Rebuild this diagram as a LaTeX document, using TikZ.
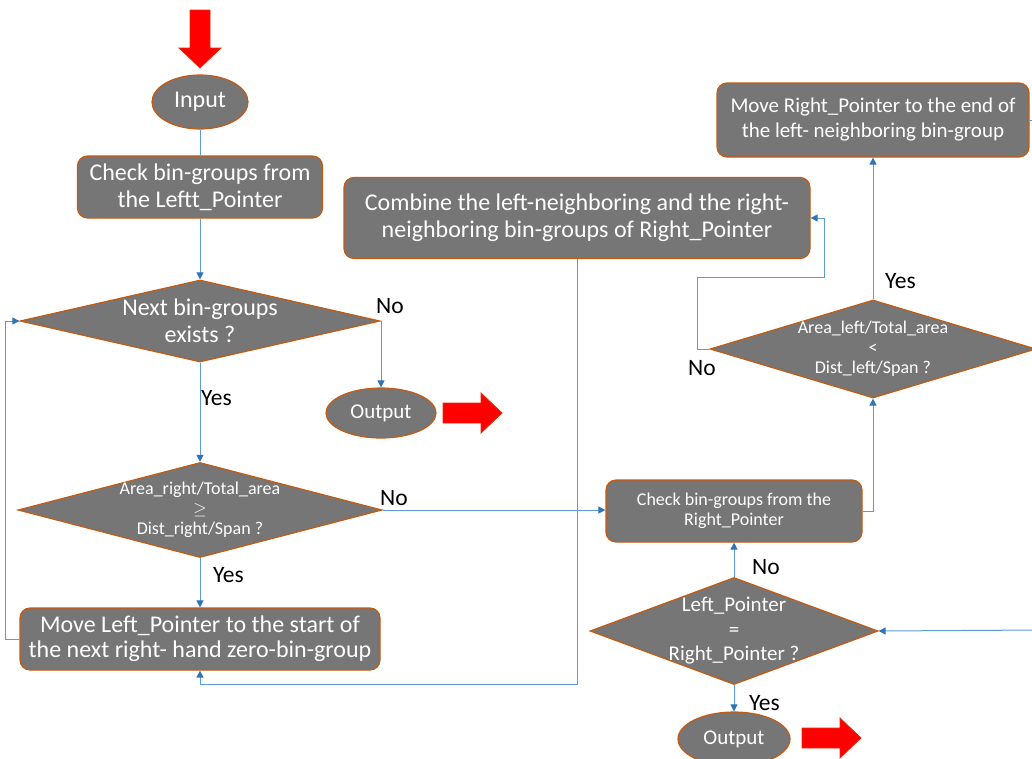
\documentclass[tikz,border=0pt]{standalone}
\usepackage{fontspec}
\setmainfont{Carlito}
\usepackage{tikz}
\usetikzlibrary{arrows.meta,positioning,shapes.geometric}
\definecolor{fl}{RGB}{118,118,118}
\definecolor{rd}{RGB}{197,90,17}
\definecolor{ln}{RGB}{91,155,213}
\definecolor{tp}{RGB}{46,117,182}
\definecolor{ar}{RGB}{255,0,0}

\begin{document}
\begin{tikzpicture}[x=1pt,y=-1pt,
  box/.style={draw=rd,fill=fl,text=white,rounded corners=10pt,line width=1.2pt,align=center,inner sep=0pt},
  dia/.style={draw=rd,fill=fl,text=white,diamond,line width=1.2pt,align=center,inner sep=0pt},
  oval/.style={draw=rd,fill=fl,text=white,ellipse,line width=1.2pt,inner sep=0pt},
  conn/.style={draw=ln,line width=1pt,-{Triangle[length=7pt,width=7pt,color=tp]}},
  big/.style={font=\fontsize{24}{27}\selectfont},
  med/.style={font=\fontsize{21}{25}\selectfont},
  mid/.style={font=\fontsize{21}{24.5}\selectfont},
  sml/.style={font=\fontsize{18}{20}\selectfont},
  lbl/.style={font=\fontsize{23.5}{26}\selectfont,anchor=west,inner sep=0pt},
  blk/.style={fill=ar,draw=rd!50!ar,line width=0.8pt}]
  \useasboundingbox (0,0) rectangle (1032,758);

  % left column
  \node[oval,big,minimum width=96pt,minimum height=54pt] (inp) at (200,102) {Input};
  \node[box,big,minimum width=245pt,minimum height=62pt] (chk1) at (200,187) {Check bin-groups from\\the Leftt\_Pointer};
  \node[dia,big,aspect=4.39,inner xsep=-4pt,inner ysep=-2pt,minimum width=360pt,minimum height=82pt] (d1) at (200,321) {Next bin-groups\\exists ?};
  \node[oval,font=\fontsize{21}{25}\selectfont,minimum width=110pt,minimum height=50pt] (out1) at (381,413) {Output};
  \node[dia,sml,aspect=3.83,inner xsep=-4pt,inner ysep=-2pt,minimum width=364pt,minimum height=95pt] (d2) at (200,510) {Area\_right/Total\_area\\$\geq$\\Dist\_right/Span ?};
  \node[box,big,font=\fontsize{24}{25}\selectfont,minimum width=360pt,minimum height=62pt] (mv1) at (200,639) {Move Left\_Pointer to the start of\\the next right- hand zero-bin-group};

  % middle and right
  \node[box,big,minimum width=466pt,minimum height=81pt] (comb) at (577,218) {Combine the left-neighboring and the right-\\neighboring bin-groups of Right\_Pointer};
  \node[box,med,minimum width=312pt,minimum height=74pt] (mv2) at (873,120) {Move Right\_Pointer to the end of\\the left- neighboring bin-group};
  \node[dia,sml,aspect=3.33,inner xsep=-4pt,inner ysep=-2pt,minimum width=326pt,minimum height=98pt] (d3) at (873,349) {Area\_left/Total\_area\\<\\Dist\_left/Span ?};
  \node[box,sml,minimum width=256pt,minimum height=62pt] (chk2) at (734,511) {Check bin-groups from the\\Right\_Pointer};
  \node[dia,mid,aspect=2.69,inner xsep=-8pt,inner ysep=-4pt,minimum width=288pt,minimum height=107pt] (d4) at (734,631) {Left\_Pointer\\=\\Right\_Pointer ?};
  \node[oval,font=\fontsize{21}{25}\selectfont,minimum width=112pt,minimum height=54pt] (out2) at (734,739) {Output};

  \coordinate (n1) at (697,277);
  \coordinate (n2) at (824,277);
  \coordinate (r1) at (1040,630);

  % connectors
  \draw[ln,line width=1pt] (inp) -- (chk1);
  \draw[conn] (chk1) -- (d1);
  \draw[conn] (d1.east) -| (out1.north);
  \draw[conn] (d1) -- (d2);
  \draw[conn] (d2) -- (mv1);
  \draw[conn] (d2.east) -- (d2.east -| chk2.west);
  \draw[conn] (mv1.west) -- ++(-14,0) |- (d1.west);
  \draw[conn] (comb.south) |- ([yshift=-14pt]mv1.south) -- (mv1.south);
  \draw[conn] (chk2.east) -| (d3.south);
  \draw[conn] (d3) -- (mv2);
  \draw[conn] (d3.west) -| (n1) -- (n2) |- (comb.east);
  \draw[ln,line width=1pt] (mv2.east) -- ++(10,0);
  \draw[conn] (r1) -- (d4.east);
  \draw[conn] (d4) -- (chk2);
  \draw[conn] (d4) -- (out2);

  % yes / no
  \node[lbl] (l1) at (376,306) {No};
  \node[lbl] (l2) at (201,398) {Yes};
  \node[lbl] (l3) at (380,498) {No};
  \node[lbl] (l4) at (213,575) {Yes};
  \node[lbl] (l5) at (885,281) {Yes};
  \node[lbl] (l6) at (688,368) {No};
  \node[lbl] (l7) at (752,567) {No};
  \node[lbl] (l8) at (749,703) {Yes};

  % red block arrows
  \draw[blk] (190,10) -- (210,10) -- (210,48) -- (221,48) -- (200,68) -- (179,48) -- (190,48) -- cycle;
  \draw[blk] (443,403) -- (481,403) -- (481,393) -- (502,413) -- (481,433) -- (481,423) -- (443,423) -- cycle;
  \draw[blk] (802,728) -- (840,728) -- (840,718) -- (861,738) -- (840,758) -- (840,748) -- (802,748) -- cycle;
\end{tikzpicture}
\end{document}
